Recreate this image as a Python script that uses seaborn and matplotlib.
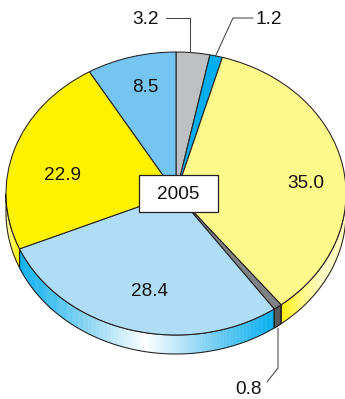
import numpy as np
import matplotlib
matplotlib.use("Agg")
import matplotlib.pyplot as plt
import seaborn as sns
from matplotlib.collections import PolyCollection
from matplotlib.patches import PathPatch, Rectangle
from matplotlib.path import Path
from matplotlib.colors import LinearSegmentedColormap

sns.set_theme(style="white")
plt.rcParams["font.family"] = ["Liberation Sans", "DejaVu Sans"]

labels = ["3.2", "1.2", "35.0", "0.8", "28.4", "22.9", "8.5"]
values = [3.2, 1.2, 35.0, 0.8, 28.4, 22.9, 8.5]
top_colors = ["#BFC0C2", "#00AEEF", "#FFF98C", "#808285", "#B0DDF6", "#FFF200", "#74C5F0"]
year = "2005"

W, H = 345, 399
CX, CY, RX, RY, DEPTH = 176.0, 193.5, 170.0, 141.5, 19.0
EDGE = "#231F20"


def ux(px):
    return (px - CX) / RX


def uy(py):
    return (CY - py) / RY


fig = plt.figure(figsize=(W / 100, H / 100), dpi=100)
ax = fig.add_axes([0, 0, 1, 1])
wedges, _ = ax.pie(values, colors=top_colors, startangle=90, counterclock=False,
                   radius=1.0, wedgeprops=dict(edgecolor=EDGE, linewidth=0.75, zorder=5))
ax.set_aspect("auto")

blue_cm = LinearSegmentedColormap.from_list("b", sns.blend_palette(["#00AEEF", "#7DD0F2", "#FFFFFF", "#7DD0F2", "#00AEEF"], 9))
yel_r = LinearSegmentedColormap.from_list("yr", ["#FFF200", "#FFF685", "#FFFCC8", "#FFFBB8"])
yel_l = LinearSegmentedColormap.from_list("yl", ["#FFFBB0", "#FFF200"])
dark_cm = LinearSegmentedColormap.from_list("d", ["#58595B", "#58595B"])
rim_maps = {"35.0": (yel_r, 281, 346), "0.8": (dark_cm, 270, 282),
            "28.4": (blue_cm, 18, 274), "22.9": (yel_l, 6, 20)}
d = DEPTH / RY

for lab, w in zip(labels, wedges):
    if lab not in rim_maps:
        continue
    # pie runs clockwise from 90 deg to -270 deg; the visible rim is -180..0
    lo, hi = max(w.theta1, -180.0), min(w.theta2, 0.0)
    t = np.radians(np.linspace(lo, hi, 200))
    xs, ys = np.cos(t), np.sin(t)
    cmap, p0, p1 = rim_maps[lab]
    quads = [[(xs[i], ys[i]), (xs[i + 1], ys[i + 1]), (xs[i + 1], ys[i + 1] - d), (xs[i], ys[i] - d)]
             for i in range(len(xs) - 1)]
    mids = (xs[:-1] + xs[1:]) / 2
    frac = np.clip((mids - ux(p0)) / (ux(p1) - ux(p0)), 0, 1)
    cols = cmap(frac)
    ax.add_collection(PolyCollection(quads, facecolors=cols, edgecolors=cols, linewidths=0.3, zorder=2))
    verts = np.vstack([np.column_stack([xs, ys]),
                       np.column_stack([xs[::-1], ys[::-1] - d]),
                       [[xs[0], ys[0]]]])
    codes = [Path.MOVETO] + [Path.LINETO] * (len(verts) - 2) + [Path.CLOSEPOLY]
    ax.add_patch(PathPatch(Path(verts, codes), facecolor="none", edgecolor=EDGE, linewidth=0.75, zorder=3))

ax.set_xlim(ux(0), ux(W))
ax.set_ylim(uy(H), uy(0))
ax.set_aspect("auto")

# value labels
label_pos = {"35.0": (306, 183.5), "28.4": (149, 292), "22.9": (62.5, 175.5), "8.5": (145, 87),
             "3.2": (146, 19), "1.2": (269, 19), "0.8": (248, 389)}
for lab in labels:
    px, py = label_pos[lab]
    ax.text(ux(px), uy(py), lab, ha="center", va="center", fontsize=13.7, color="#111111", zorder=8)

# leader lines
leaders = [[(166, 18), (189.5, 18), (189.5, 52)],
           [(253, 18), (233, 18), (215.5, 56)],
           [(278, 328), (278, 368), (267, 382)]]
for pts in leaders:
    ax.plot([ux(p[0]) for p in pts], [uy(p[1]) for p in pts], color="#444444", lw=0.75, zorder=6)

# year box
ax.add_patch(Rectangle((ux(138.5), uy(212)), ux(217.5) - ux(138.5), uy(174.5) - uy(212),
                       facecolor="white", edgecolor=EDGE, linewidth=0.9, zorder=7))
ax.text(ux(178), uy(194.5), year, ha="center", va="center", fontsize=13.7, color="#111111", zorder=8)

fig.savefig("out.png", dpi=100)
